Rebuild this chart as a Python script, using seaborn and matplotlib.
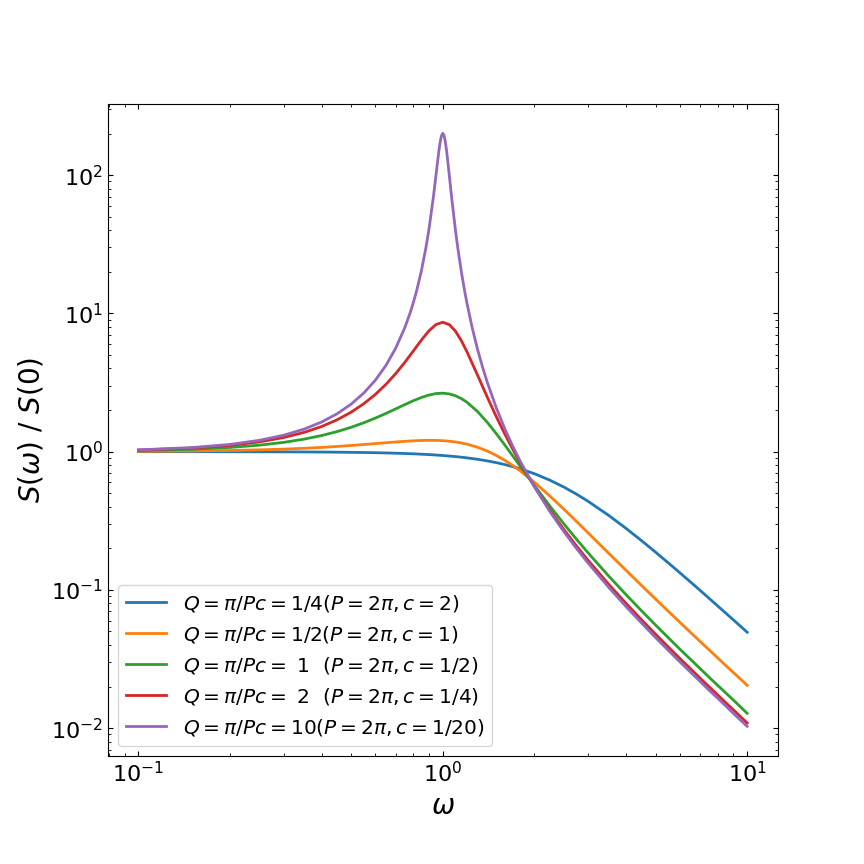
import numpy as np
import pandas as pd
import seaborn as sns
import matplotlib
matplotlib.use('Agg')
import matplotlib.pyplot as plt

# frecuencias (eje x) para las curvas anchas
omega_coarse = [0.1, 0.15, 0.2, 0.25, 0.3, 0.35, 0.4, 0.45, 0.5, 0.55, 0.6, 0.65, 0.7,
                0.75, 0.8, 0.85, 0.9, 0.95, 1.0, 1.05, 1.1, 1.15, 1.2, 1.3, 1.4, 1.5,
                1.6, 1.7, 1.8, 2.0, 2.25, 2.5, 2.75, 3.0, 3.5, 4.0, 4.5, 5.0, 5.5,
                6.0, 6.5, 7.0, 7.5, 8.5, 9.0, 10.0]
# frecuencias mas densas para el pico estrecho (Q=10)
omega_fine = [0.1, 0.15, 0.2, 0.25, 0.3, 0.35, 0.4, 0.45, 0.5, 0.55, 0.6, 0.65, 0.7,
              0.75, 0.78, 0.8, 0.82, 0.85, 0.88, 0.9, 0.93, 0.95, 0.96, 0.97, 0.98,
              0.99, 1.0, 1.01, 1.02, 1.03, 1.04, 1.05, 1.07, 1.1, 1.12, 1.15, 1.18,
              1.2, 1.25, 1.3, 1.35, 1.4, 1.5, 1.6, 1.7, 1.8, 2.0, 2.25, 2.5, 2.75,
              3.0, 3.5, 4.0, 4.5, 5.0, 5.5, 6.0, 6.5, 7.0, 7.5, 8.5, 9.0, 10.0]

s_c2 = [0.9996, 0.9991, 0.9983, 0.9974, 0.9962, 0.9947, 0.9929, 0.9907, 0.9882,
        0.9853, 0.9821, 0.9783, 0.9741, 0.9694, 0.9641, 0.9583, 0.9520, 0.9450,
        0.9375, 0.9294, 0.9207, 0.9115, 0.9016, 0.8804, 0.8571, 0.8321, 0.8057,
        0.7782, 0.7499, 0.6923, 0.6211, 0.5538, 0.4924, 0.4375, 0.3470, 0.2785,
        0.2268, 0.1875, 0.1571, 0.1334, 0.1145, 0.0993, 0.0868, 0.0680, 0.0608,
        0.0494]
s_c1 = [1.0050, 1.0111, 1.0196, 1.0302, 1.0429, 1.0573, 1.0731, 1.0901, 1.1077,
        1.1255, 1.1430, 1.1595, 1.1745, 1.1873, 1.1974, 1.2041, 1.2070, 1.2057,
        1.2000, 1.1897, 1.1749, 1.1559, 1.1328, 1.0764, 1.0100, 0.9379, 0.8642,
        0.7918, 0.7229, 0.6000, 0.4767, 0.3832, 0.3125, 0.2588, 0.1850, 0.1385,
        0.1075, 0.0859, 0.0702, 0.0585, 0.0495, 0.0424, 0.0368, 0.0284, 0.0253,
        0.0204]
s_c05 = [1.0177, 1.0401, 1.0721, 1.1141, 1.1668, 1.2309, 1.3074, 1.3969, 1.5000,
         1.6168, 1.7468, 1.8881, 2.0373, 2.1887, 2.3343, 2.4638, 2.5658, 2.6295,
         2.6471, 2.6156, 2.5380, 2.4218, 2.2780, 1.9511, 1.6284, 1.3462, 1.1137,
         0.9275, 0.7795, 0.5676, 0.4026, 0.3000, 0.2324, 0.1855, 0.1266, 0.0923,
         0.0705, 0.0557, 0.0452, 0.0374, 0.0316, 0.0270, 0.0233, 0.0180, 0.0160,
         0.0128]
s_c025 = [1.0264, 1.0603, 1.1098, 1.1769, 1.2647, 1.3772, 1.5201, 1.7009, 1.9297,
          2.2202, 2.5902, 3.0624, 3.6635, 4.4200, 5.3438, 6.4024, 7.4722, 8.3105,
          8.6308, 8.2976, 7.4464, 6.3634, 5.2913, 3.5829, 2.4789, 1.7842, 1.3353,
          1.0338, 0.8234, 0.5586, 0.3769, 0.2729, 0.2076, 0.1638, 0.1103, 0.0798,
          0.0607, 0.0478, 0.0387, 0.0320, 0.0270, 0.0230, 0.0199, 0.0153, 0.0136,
          0.0109]
s_c005 = [1.0303, 1.0697, 1.1276, 1.2075, 1.3139, 1.4541, 1.6382, 1.8816, 2.2077,
          2.6535, 3.2802, 4.1940, 5.5922, 7.8751, 10.0058, 11.9487, 14.5137,
          20.1964, 29.8015, 40.2388, 67.8710, 100.3817, 122.3865, 147.5556,
          172.9726, 192.9150, 200.6252, 192.9125, 172.9676, 147.5481, 122.3765,
          100.3692, 67.8534, 40.2136, 29.7713, 20.1584, 14.4679, 11.8976, 7.8105,
          5.5136, 4.1007, 3.1716, 2.0653, 1.4569, 1.0865, 0.8441, 0.5557, 0.3677,
          0.2634, 0.1992, 0.1566, 0.1049, 0.0757, 0.0575, 0.0452, 0.0366, 0.0303,
          0.0255, 0.0218, 0.0188, 0.0145, 0.0128, 0.0103]

etiquetas = [r'$Q=\pi/Pc=1/4(P=2\pi,c=2)$',
             r'$Q=\pi/Pc=1/2(P=2\pi,c=1)$',
             r'$Q=\pi/Pc=\ 1\ \ (P=2\pi,c=1/2)$',
             r'$Q=\pi/Pc=\ 2\ \ (P=2\pi,c=1/4)$',
             r'$Q=\pi/Pc=10(P=2\pi,c=1/20)$']

curvas = [(omega_coarse, s_c2), (omega_coarse, s_c1), (omega_coarse, s_c05),
          (omega_coarse, s_c025), (omega_fine, s_c005)]

fig, ax = plt.subplots(figsize=(8.64, 8.64), dpi=100)
fig.subplots_adjust(left=0.125, right=0.9, top=0.88, bottom=0.125)

colores = sns.color_palette('tab10')
for i, (w, s) in enumerate(curvas):
    df = pd.DataFrame({'omega': w, 'S': s})
    sns.lineplot(data=df, x='omega', y='S', ax=ax, color=colores[i],
                 linewidth=2, label=etiquetas[i])

ax.set_xscale('log')
ax.set_yscale('log')
ax.set_xlabel(r'$\omega$', fontsize=20)
ax.set_ylabel(r'$S(\omega)\ /\ S(0)$', fontsize=20)
ax.tick_params(which='both', direction='in', top=True, right=True, labelsize=16)
ax.legend(loc='lower left', fontsize=14.5)

plt.savefig('out.png')
